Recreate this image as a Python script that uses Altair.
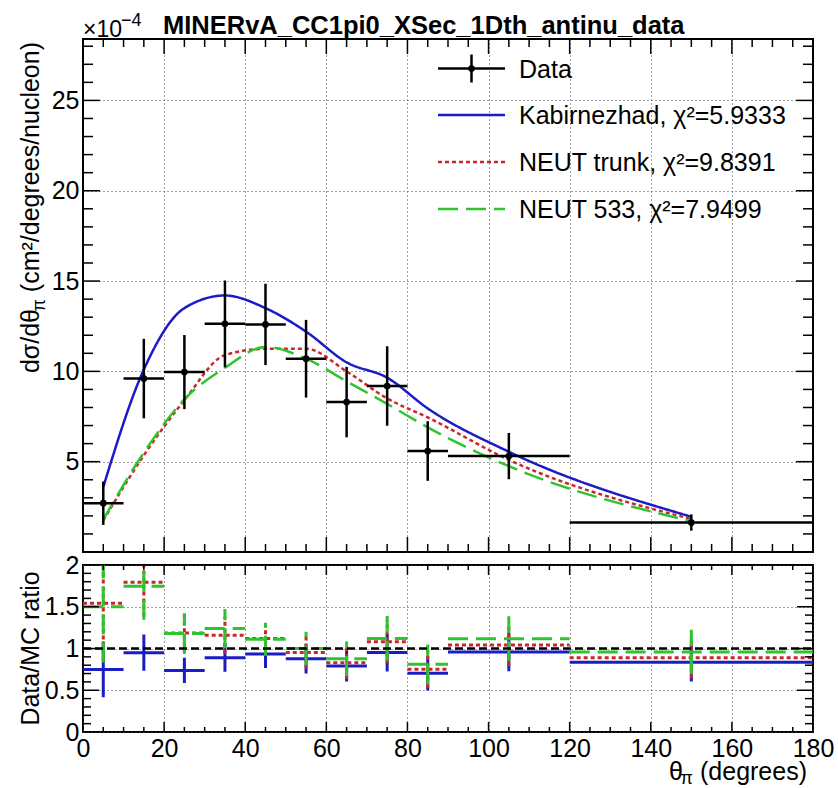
import altair as alt
import pandas as pd

# ---------------- data ----------------
bin_lo = [0, 10, 20, 30, 40, 50, 60, 70, 80, 90, 120]
bin_hi = [10, 20, 30, 40, 50, 60, 70, 80, 90, 120, 180]
bin_center = [5, 15, 25, 35, 45, 55, 65, 75, 85, 105, 150]
data_xsec = [2.7, 9.6, 9.96, 12.63, 12.6, 10.7, 8.3, 9.19, 5.59, 5.31, 1.63]
data_err = [1.2, 2.2, 2.05, 2.4, 2.25, 2.15, 1.95, 2.2, 1.65, 1.28, 0.45]
kabirnezhad = [3.6, 10.1, 13.5, 14.2, 13.5, 12.2, 10.5, 9.65, 7.95, 5.55, 1.95]
neut_trunk = [1.75, 5.35, 8.4, 10.9, 11.25, 11.25, 10.0, 8.5, 7.45, 5.1, 1.83]
neut_533 = [1.8, 5.5, 8.45, 10.2, 11.35, 10.7, 9.45, 8.2, 6.9, 4.75, 1.7]

model_names = ["Kabirnezhad", "NEUT trunk", "NEUT 533"]
model_chi2 = ["5.9333", "9.8391", "7.9499"]
model_values = [kabirnezhad, neut_trunk, neut_533]
model_colors = ["#1c1cc4", "#c8282a", "#2fc42f"]
model_dashes = [[1, 0], [4, 3], [20, 8]]

x_grid = [20, 40, 60, 80, 100, 120, 140, 160]
x_labels = [0, 20, 40, 60, 80, 100, 120, 140, 160, 180]
x_minor = [5, 10, 15, 25, 30, 35, 45, 50, 55, 65, 70, 75, 85, 90, 95, 105, 110, 115,
           125, 130, 135, 145, 150, 155, 165, 170, 175]
y1_major = [5, 10, 15, 20, 25]
y1_minor = [1, 2, 3, 4, 6, 7, 8, 9, 11, 12, 13, 14, 16, 17, 18, 19, 21, 22, 23, 24, 26, 27, 28]
y2_major = [0.5, 1, 1.5]
y2_labels = [0, 0.5, 1, 1.5, 2]
y2_minor = [0.1, 0.2, 0.3, 0.4, 0.6, 0.7, 0.8, 0.9, 1.1, 1.2, 1.3, 1.4, 1.6, 1.7, 1.8, 1.9]

W, H1, H2 = 730, 513, 167
FONT = "Liberation Sans"
FS = 25

xs = alt.Scale(domain=[0, 180], nice=False, zero=False)
ys1 = alt.Scale(domain=[0, 28.4], nice=False, zero=False)
ys2 = alt.Scale(domain=[0, 2], nice=False, zero=False)

grid_kw = dict(grid=True, gridColor="#444444", gridDash=[1, 3], gridWidth=1,
               ticks=False, domain=False, title=None)
ax_x_top = alt.Axis(values=x_grid, labels=False, **grid_kw)
ax_y_top = alt.Axis(values=y1_major, format="d", labelPadding=4, **grid_kw)
ax_x_bot = alt.Axis(values=x_labels, format="d", labelPadding=4, labelFlush=False, **grid_kw)
ax_y_bot = alt.Axis(values=y2_labels, format="~g", labelPadding=4, **grid_kw)

# ---------------- tables ----------------
data_df = pd.DataFrame({"lo": bin_lo, "hi": bin_hi, "c": bin_center,
                        "v": data_xsec, "e": data_err})
data_df["vlo"] = data_df["v"] - data_df["e"]
data_df["vhi"] = data_df["v"] + data_df["e"]

model_dfs = []
for name, vals in zip(model_names, model_values):
    d = pd.DataFrame({"lo": bin_lo, "hi": bin_hi, "c": bin_center, "mc": vals,
                      "v": data_xsec, "e": data_err})
    d["ratio"] = d["v"] / d["mc"]
    d["rlo"] = d["ratio"] - d["e"] / d["mc"]
    d["rhi"] = d["ratio"] + d["e"] / d["mc"]
    d["model"] = name
    model_dfs.append(d)


def tick_layers(values_major, values_minor, scale, ax, axis_ch, plot_w, plot_h, lmaj, lmin, sides):
    out = []
    for vals, ln in ((values_major, lmaj), (values_minor, lmin)):
        df = pd.DataFrame({"v": vals})
        for side in sides:
            base = alt.Chart(df).mark_rule(color="black", strokeWidth=1.5)
            if axis_ch == "y":
                enc = dict(y=alt.Y("v:Q", scale=scale, axis=ax))
                if side == "left":
                    enc.update(x=alt.value(0), x2=alt.value(ln))
                else:
                    enc.update(x=alt.value(plot_w - ln), x2=alt.value(plot_w))
            else:
                enc = dict(x=alt.X("v:Q", scale=scale, axis=ax))
                if side == "bottom":
                    enc.update(y=alt.value(plot_h - ln), y2=alt.value(plot_h))
                else:
                    enc.update(y=alt.value(0), y2=alt.value(ln))
            out.append(base.encode(**enc))
    return out


def text_layer(txt, x, y, size=FS, align="left", baseline="alphabetic", angle=0, weight="normal"):
    df = pd.DataFrame({"t": [txt]})
    return alt.Chart(df).mark_text(font=FONT, fontSize=size, align=align, baseline=baseline,
                                   angle=angle, fontWeight=weight, color="black").encode(
        text="t:N", x=alt.value(x), y=alt.value(y))


# ---------------- top panel ----------------
X1 = lambda f: alt.X(f, scale=xs, axis=ax_x_top)
Y1 = lambda f: alt.Y(f, scale=ys1, axis=ax_y_top)

top_layers = []
for i, d in enumerate(model_dfs):
    top_layers.append(alt.Chart(d).mark_line(interpolate="monotone", color=model_colors[i],
                                             strokeWidth=2.5, strokeDash=model_dashes[i]).encode(
        x=X1("c:Q"), y=Y1("mc:Q")))

top_layers.append(alt.Chart(data_df).mark_rule(color="black", strokeWidth=2.5).encode(
    x=X1("lo:Q"), x2="hi:Q", y=Y1("v:Q")))
top_layers.append(alt.Chart(data_df).mark_rule(color="black", strokeWidth=2.5).encode(
    x=X1("c:Q"), y=Y1("vlo:Q"), y2="vhi:Q"))
top_layers.append(alt.Chart(data_df).mark_point(filled=True, color="black", size=45, opacity=1).encode(
    x=X1("c:Q"), y=Y1("v:Q")))

top_layers += tick_layers(y1_major, y1_minor, ys1, ax_y_top, "y", W, H1, 17, 10, ("left", "right"))
top_layers += tick_layers(x_grid, x_minor, xs, ax_x_top, "x", W, H1, 15, 8, ("bottom", "top"))

# legend
leg_rows = [29.5, 76, 123, 170]
leg_x0, leg_x1, leg_tx = 355, 422, 436
ldf = pd.DataFrame({"a": [0]})
top_layers.append(alt.Chart(ldf).mark_rule(color="black", strokeWidth=2.5).encode(
    x=alt.value(leg_x0), x2=alt.value(leg_x1), y=alt.value(leg_rows[0])))
top_layers.append(alt.Chart(ldf).mark_rule(color="black", strokeWidth=2.5).encode(
    x=alt.value((leg_x0 + leg_x1) / 2), y=alt.value(leg_rows[0] - 14), y2=alt.value(leg_rows[0] + 14)))
top_layers.append(alt.Chart(ldf).mark_point(filled=True, color="black", size=45, opacity=1).encode(
    x=alt.value((leg_x0 + leg_x1) / 2), y=alt.value(leg_rows[0])))
top_layers.append(text_layer("Data", leg_tx, leg_rows[0] + 9))
for i in range(3):
    r = leg_rows[i + 1]
    top_layers.append(alt.Chart(ldf).mark_rule(color=model_colors[i], strokeWidth=2.5,
                                               strokeDash=model_dashes[i]).encode(
        x=alt.value(leg_x0), x2=alt.value(leg_x1), y=alt.value(r)))
    top_layers.append(text_layer(f"{model_names[i]}, χ²={model_chi2[i]}", leg_tx, r + 9))

# titles
top_layers.append(text_layer("MINERvA_CC1pi0_XSec_1Dth_antinu_data", 80, -5, size=25.5, weight="bold"))
top_layers.append(text_layer("×10", 0, -2, size=23))
top_layers.append(text_layer("−4", 38, -13, size=18))
# y title (rotated pieces, read bottom to top, right end at top of axis)
top_layers.append(text_layer(" (cm²/degrees/nucleon)", -44, 3, angle=270, align="right"))
top_layers.append(text_layer("π", -38, 3 + 257, size=18, angle=270, align="right"))
top_layers.append(text_layer("dσ/dθ", -44, 3 + 257 + 10, angle=270, align="right"))

top = alt.layer(*top_layers).properties(width=W, height=H1)

# ---------------- ratio panel ----------------
X2 = lambda f: alt.X(f, scale=xs, axis=ax_x_bot)
Y2 = lambda f: alt.Y(f, scale=ys2, axis=ax_y_bot)

bot_layers = []
for i, d in enumerate(model_dfs):
    bot_layers.append(alt.Chart(d).mark_rule(color=model_colors[i], strokeWidth=3,
                                             strokeDash=model_dashes[i], clip=True).encode(
        x=X2("lo:Q"), x2="hi:Q", y=Y2("ratio:Q")))
    bot_layers.append(alt.Chart(d).mark_rule(color=model_colors[i], strokeWidth=3,
                                             strokeDash=model_dashes[i], clip=True).encode(
        x=X2("c:Q"), y=Y2("rlo:Q"), y2="rhi:Q"))

one_df = pd.DataFrame({"x0": [0], "x1": [180], "y": [1]})
bot_layers.append(alt.Chart(one_df).mark_rule(color="black", strokeWidth=2.5, strokeDash=[8, 4]).encode(
    x=X2("x0:Q"), x2="x1:Q", y=Y2("y:Q")))

bot_layers += tick_layers(y2_major, y2_minor, ys2, ax_y_bot, "y", W, H2, 16, 8, ("left", "right"))
bot_layers += tick_layers(x_grid, x_minor, xs, ax_x_bot, "x", W, H2, 10, 5, ("bottom", "top"))

bot_layers.append(text_layer("Data/MC ratio", -44, H2 / 2, angle=270, align="center"))
bot_layers.append(text_layer(" (degrees)", 724, H2 + 48, align="right"))
bot_layers.append(text_layer("π", 610, H2 + 52, size=18, align="right"))
bot_layers.append(text_layer("θ", 600, H2 + 48, align="right"))

bottom = alt.layer(*bot_layers).properties(width=W, height=H2)

chart = alt.vconcat(top, bottom, spacing=13, bounds="flush").properties(
    padding={"left": 18, "top": 11, "right": 0, "bottom": 0}
).configure_axis(
    labelFont=FONT, labelFontSize=FS, labelColor="black"
).configure_view(
    stroke="black", strokeWidth=2
)

chart.save("out.html", embed_options={"renderer": "svg", "actions": False})
